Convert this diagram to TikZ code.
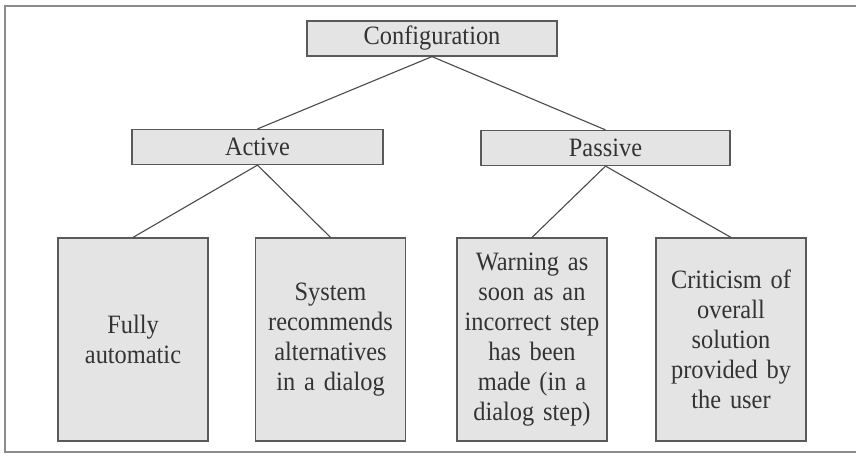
\documentclass[tikz,border=0pt]{standalone}
\usepackage{fontspec}
\setmainfont[FakeStretch=0.92]{Liberation Serif}
\begin{document}
\begin{tikzpicture}[x=1pt,y=1pt,
  box/.style={draw=boxline, fill=boxfill, line width=1.2pt, inner sep=0pt,
    text=txt, font=\fontsize{26.5}{30}\selectfont, align=center},
  headbox/.style={box, minimum height=35pt},
  leafbox/.style={box, minimum width=150pt, minimum height=203pt, text width=144pt},
  link/.style={draw=linkcol, line width=1.1pt}]
\definecolor{boxline}{HTML}{5A5A5A}
\definecolor{boxfill}{HTML}{E4E4E4}
\definecolor{txt}{HTML}{333333}
\definecolor{linkcol}{HTML}{4A4A4A}
\definecolor{framecol}{HTML}{8C8C8C}
\useasboundingbox (0,0) rectangle (856,-455);
\fill[white] (0,0) rectangle (856,-455);

% outer frame, open at the right edge
\draw[framecol, line width=1.5pt] (856,-6) -- (5,-6) -- (5,-452) -- (856,-452);

% tree nodes
\node[headbox, minimum width=250pt] (config) at (432,-38.5) {Configuration};
\node[headbox, minimum width=251pt] (active) at (257.5,-147) {Active};
\node[headbox, minimum width=249pt] (passive) at (605.5,-148) {Passive};

\node[leafbox] (auto) at (133,-339.5) {Fully\\automatic};
\node[leafbox] (recommend) at (330.5,-339.5) {System\\recommends\\alternatives\\in a dialog};
\node[leafbox] (warning) at (532,-339.5) {Warning as\\soon as an\\incorrect step\\has been\\made (in a\\dialog step)};
\node[leafbox] (critic) at (731,-339.5) {Criticism of\\overall\\solution\\provided by\\the user};

% connectors
\draw[link] (config.south) -- (active.north);
\draw[link] (config.south) -- (passive.north);
\draw[link] (active.south) -- (auto.north);
\draw[link] (active.south) -- (recommend.north);
\draw[link] (passive.south) -- (warning.north);
\draw[link] (passive.south) -- (critic.north);
\end{tikzpicture}
\end{document}
